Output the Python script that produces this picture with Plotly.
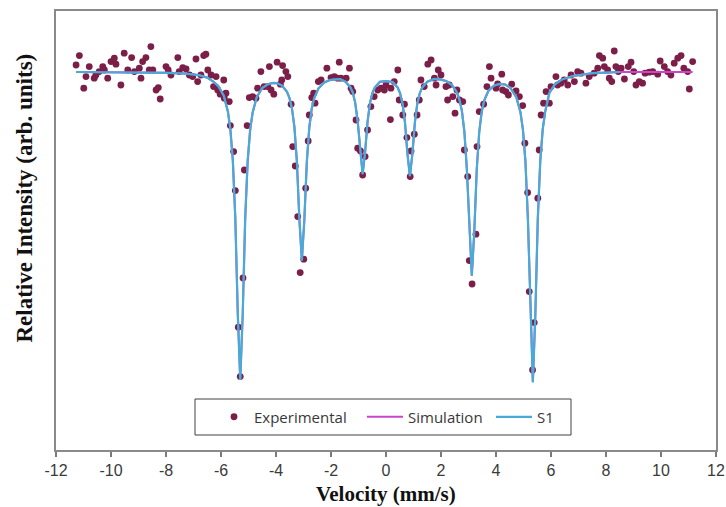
import plotly.graph_objects as go

# Measured spectrum: Doppler velocity (mm/s) and relative transmission (%)
exp_velocity = [
    -11.27, -11.15, -10.99, -10.91, -10.79, -10.61, -10.55, -10.43, -10.30, -10.24,
    -10.12, -10.00, -9.88, -9.82, -9.64, -9.52, -9.39, -9.25, -9.15, -8.97,
    -8.91, -8.85, -8.73, -8.61, -8.55, -8.48, -8.36, -8.28, -8.21, -8.00,
    -7.92, -7.82, -7.57, -7.52, -7.39, -7.27, -7.15, -7.03, -6.91, -6.85,
    -6.73, -6.63, -6.55, -6.48, -6.36, -6.27, -6.18, -6.12, -6.03, -5.90,
    -5.88, -5.82, -5.70, -5.66, -5.54, -5.48, -5.37, -5.30, -5.20, -5.15,
    -5.05, -4.97, -4.85, -4.73, -4.67, -4.55, -4.43, -4.30, -4.24, -4.18,
    -4.08, -3.96, -3.84, -3.79, -3.76, -3.64, -3.57, -3.45, -3.39, -3.30,
    -3.21, -3.12, -2.99, -2.92, -2.83, -2.79, -2.70, -2.63, -2.58, -2.46,
    -2.36, -2.15, -2.00, -1.88, -1.76, -1.70, -1.64, -1.45, -1.33, -1.27,
    -1.21, -1.09, -1.03, -0.93, -0.85, -0.76, -0.67, -0.55, -0.43, -0.30,
    -0.18, -0.06, 0.00, 0.16, 0.18, 0.30, 0.43, 0.48, 0.61, 0.67,
    0.76, 0.88, 0.91, 1.03, 1.13, 1.21, 1.27, 1.39, 1.52, 1.64,
    1.76, 1.82, 1.90, 2.00, 2.18, 2.24, 2.30, 2.43, 2.51, 2.58,
    2.67, 2.79, 2.85, 2.97, 3.03, 3.13, 3.27, 3.31, 3.39, 3.55,
    3.67, 3.76, 3.82, 4.00, 4.06, 4.21, 4.24, 4.36, 4.45, 4.57,
    4.73, 4.85, 4.97, 5.05, 5.15, 5.21, 5.33, 5.39, 5.52, 5.57,
    5.64, 5.73, 5.82, 5.94, 6.00, 6.18, 6.24, 6.36, 6.48, 6.61,
    6.73, 6.85, 6.97, 7.09, 7.27, 7.39, 7.57, 7.70, 7.76, 7.88,
    7.94, 8.06, 8.12, 8.21, 8.30, 8.36, 8.45, 8.55, 8.67, 8.81,
    8.91, 9.01, 9.09, 9.21, 9.33, 9.42, 9.57, 9.70, 9.88, 9.97,
    10.12, 10.24, 10.36, 10.48, 10.61, 10.73, 10.83, 10.97, 11.03, 11.15,
]
exp_intensity = [
    100.35, 100.82, 99.19, 99.77, 100.27, 99.69, 99.85, 100.02, 100.27, 100.10,
    99.69, 100.52, 100.69, 100.39, 99.35, 100.94, 100.10, 100.72, 100.02, 100.19,
    99.69, 100.52, 100.72, 100.10, 101.27, 100.10, 99.10, 99.22, 98.65, 100.27,
    100.10, 99.85, 100.72, 100.02, 100.22, 100.15, 99.85, 99.77, 100.65, 99.52,
    99.85, 100.82, 100.89, 100.10, 99.85, 99.27, 99.77, 99.10, 98.89, 99.60,
    98.69, 98.94, 98.52, 97.32, 96.02, 94.07, 87.24, 84.77, 89.70, 95.10,
    97.32, 98.72, 98.77, 98.69, 99.19, 100.02, 99.27, 99.27, 100.27, 99.10,
    98.89, 100.49, 99.39, 99.60, 100.32, 100.02, 99.77, 98.39, 96.27, 95.30,
    92.77, 89.97, 90.64, 94.19, 96.55, 97.85, 98.72, 98.94, 98.44, 99.52,
    99.60, 100.19, 99.72, 99.77, 99.69, 100.49, 99.69, 99.69, 100.19, 99.19,
    99.02, 97.60, 96.19, 96.05, 94.85, 95.77, 97.10, 98.27, 98.77, 99.10,
    99.19, 99.10, 99.35, 97.62, 99.19, 99.52, 100.10, 98.60, 97.85, 98.39,
    96.72, 94.77, 96.05, 96.89, 97.85, 98.60, 99.60, 99.27, 100.39, 100.60,
    99.69, 99.35, 100.10, 99.85, 99.27, 98.60, 99.35, 98.77, 97.94, 99.10,
    98.60, 98.52, 96.10, 94.77, 90.57, 89.40, 91.89, 96.27, 98.02, 98.39,
    99.27, 100.27, 99.69, 99.19, 99.40, 99.89, 99.10, 99.02, 98.85, 99.39,
    99.05, 98.77, 98.32, 96.44, 93.97, 89.02, 85.10, 87.47, 93.69, 96.10,
    97.85, 98.44, 99.02, 98.44, 99.27, 99.77, 99.35, 99.44, 99.60, 99.35,
    99.85, 99.52, 100.02, 99.94, 99.44, 99.77, 99.94, 100.19, 100.82, 100.69,
    100.27, 100.10, 99.69, 99.52, 101.05, 100.27, 100.02, 100.19, 99.65, 100.27,
    100.49, 100.02, 99.35, 99.52, 99.44, 99.94, 99.99, 100.02, 99.89, 100.55,
    100.27, 100.02, 99.85, 100.44, 100.69, 100.82, 100.19, 100.02, 99.15, 100.52,
]

# Fitted sextet component S1 (velocity, transmission)
s1_velocity = [
    -11.27, -10.0, -9.0, -8.0, -7.3, -6.8, -6.5, -6.30, -6.10, -5.90,
    -5.75, -5.66, -5.57, -5.48, -5.39, -5.30, -5.21, -5.12, -5.03, -4.94,
    -4.85, -4.70, -4.50, -4.30, -4.10, -3.96, -3.78, -3.60, -3.51, -3.42,
    -3.33, -3.24, -3.15, -3.06, -2.97, -2.88, -2.79, -2.70, -2.61, -2.46,
    -2.26, -2.06, -1.86, -1.66, -1.48, -1.30, -1.21, -1.12, -1.03, -0.94,
    -0.85, -0.76, -0.67, -0.58, -0.49, -0.40, -0.22, 0.01, 0.24, 0.42,
    0.51, 0.60, 0.69, 0.78, 0.87, 0.96, 1.05, 1.14, 1.23, 1.32,
    1.50, 1.75, 2.00, 2.20, 2.40, 2.58, 2.67, 2.76, 2.85, 2.94,
    3.03, 3.12, 3.21, 3.30, 3.39, 3.48, 3.57, 3.72, 3.92, 4.12,
    4.32, 4.52, 4.74, 4.89, 4.98, 5.07, 5.16, 5.25, 5.34, 5.43,
    5.52, 5.61, 5.70, 5.79, 5.94, 6.14, 6.40, 6.80, 7.50, 8.50,
]
s1_intensity = [
    100.00, 99.99, 99.98, 99.96, 99.92, 99.84, 99.72, 99.54, 99.30, 98.82,
    98.03, 97.15, 95.58, 92.70, 87.92, 84.60, 87.91, 92.68, 95.55, 97.11,
    97.97, 98.74, 99.20, 99.39, 99.45, 99.44, 99.32, 99.01, 98.70, 98.18,
    97.24, 95.51, 92.64, 90.57, 92.60, 95.49, 97.22, 98.18, 98.70, 99.17,
    99.46, 99.59, 99.63, 99.64, 99.52, 99.25, 98.98, 98.47, 97.53, 95.99,
    94.89, 95.99, 97.53, 98.46, 98.97, 99.24, 99.51, 99.54, 99.50, 99.23,
    98.95, 98.43, 97.48, 95.91, 94.79, 95.91, 97.48, 98.44, 98.95, 99.23,
    99.51, 99.65, 99.62, 99.54, 99.35, 98.98, 98.62, 98.05, 97.02, 95.14,
    92.02, 89.81, 92.02, 95.13, 97.00, 98.01, 98.57, 99.05, 99.31, 99.40,
    99.38, 99.21, 98.74, 97.98, 97.11, 95.53, 92.65, 87.86, 84.49, 87.87,
    92.67, 95.56, 97.14, 98.03, 98.95, 99.38, 99.63, 99.80, 99.94, 100.00,
]

# Total simulation: the S1 sextet plus the flat baseline out to the scan end
sim_tail_velocity = [9.50, 11.15]
sim_tail_intensity = [100.00, 100.00]
sim_velocity = s1_velocity + sim_tail_velocity
sim_intensity = s1_intensity + sim_tail_intensity

x_ticks = [-12, -10, -8, -6, -4, -2, 0, 2, 4, 6, 8, 10, 12]

# Plot-area geometry in pixels (used to place the legend entries)
FIG_W, FIG_H = 726, 507
M_L, M_R, M_T, M_B = 56, 10, 11, 57
PLOT_W = FIG_W - M_L - M_R
PLOT_H = FIG_H - M_T - M_B


def px_x(px):
    return (px - M_L) / PLOT_W


def px_y(py):
    return (FIG_H - M_B - py) / PLOT_H


legend_font = dict(family="Open Sans", size=15, color="#383838")

fig = go.Figure()
fig.add_trace(go.Scatter(
    x=exp_velocity, y=exp_intensity, mode="markers", name="Experimental",
    marker=dict(color="#7b1e48", size=6.8), legend="legend",
))
fig.add_trace(go.Scatter(
    x=sim_velocity, y=sim_intensity, mode="lines", name="Simulation",
    line=dict(color="#cc44cc", width=2), legend="legend2",
))
fig.add_trace(go.Scatter(
    x=s1_velocity, y=s1_intensity, mode="lines", name="S1",
    line=dict(color="#48aad6", width=2.25), legend="legend3",
))

frame = dict(showline=True, linecolor="#8a8a8a", linewidth=2, mirror=True,
             showgrid=False, zeroline=False, automargin=False)

legend_common = dict(orientation="h", xanchor="left", yanchor="middle",
                     y=px_y(417), bgcolor="rgba(0,0,0,0)", borderwidth=0,
                     font=legend_font)

fig.update_layout(
    width=FIG_W, height=FIG_H,
    margin=dict(l=M_L, r=M_R, t=M_T, b=M_B, autoexpand=False),
    paper_bgcolor="white", plot_bgcolor="white",
    showlegend=True,
    legend=dict(x=px_x(214), itemwidth=30, **legend_common),
    legend2=dict(x=px_x(362), itemwidth=36, **legend_common),
    legend3=dict(x=px_x(491), itemwidth=36, **legend_common),
    shapes=[dict(type="rect", xref="paper", yref="paper",
                 x0=px_x(195), x1=px_x(571), y0=px_y(435), y1=px_y(399),
                 fillcolor="white", line=dict(color="#404040", width=1),
                 layer="above")],
    xaxis=dict(
        range=[-12, 12], tickvals=x_ticks, ticktext=[str(t) for t in x_ticks],
        ticks="outside", ticklen=5, tickcolor="#7a7a7a", tickwidth=1.5,
        tickfont=dict(family="Liberation Sans Narrow, Arial Narrow, Liberation Sans",
                      size=16, color="#3a3a3a"),
        **frame,
    ),
    yaxis=dict(
        range=[81.1, 103.05], showticklabels=False, ticks="",
        **frame,
    ),
    annotations=[
        dict(text="Velocity (mm/s)", xref="paper", yref="paper",
             x=px_x(386), y=px_y(494), xanchor="center", yanchor="middle",
             showarrow=False,
             font=dict(family="Liberation Serif", size=21, color="#111111",
                       weight="bold")),
        dict(text="Relative Intensity (arb. units)", xref="paper", yref="paper",
             x=px_x(23.5), y=px_y(198), xanchor="center", yanchor="middle",
             showarrow=False, textangle=-90,
             font=dict(family="Liberation Serif", size=23, color="#111111",
                       weight="bold")),
    ],
)

fig.write_html("out.html")
